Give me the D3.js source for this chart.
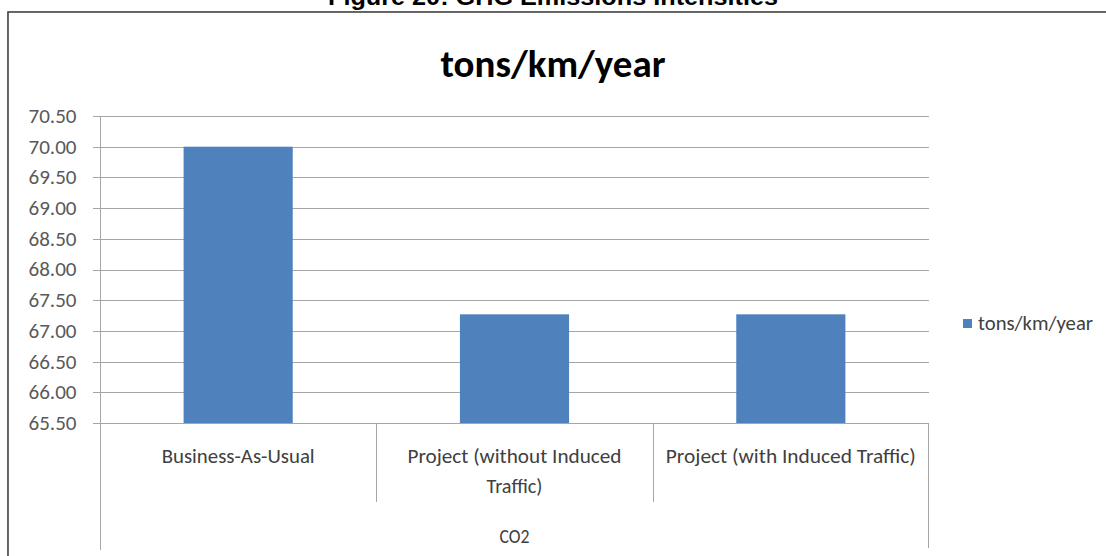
<!DOCTYPE html>
<html>
<head>
<meta charset="utf-8">
<script src="https://cdn.jsdelivr.net/npm/d3@7"></script>
<style>
  html, body { margin: 0; padding: 0; background: #fff; }
  svg { display: block; }
  .lbl { font-family: Carlito, "Liberation Sans Narrow", "Open Sans", sans-serif; }
</style>
</head>
<body>
<svg id="chart" width="1106" height="556"></svg>
<script>
// Emission intensity of CO2 per kilometre per year, by scenario
const categories = ["Business-As-Usual", "Project (without Induced Traffic)", "Project (with Induced Traffic)"];
const categoryLines = [["Business-As-Usual"], ["Project (without Induced", "Traffic)"], ["Project (with Induced Traffic)"]];
const groupLabel = "CO2";
const seriesName = "tons/km/year";
const values = [70.0, 67.27, 67.27];
const yTicks = [65.5, 66.0, 66.5, 67.0, 67.5, 68.0, 68.5, 69.0, 69.5, 70.0, 70.5];
const caption = "Figure 20: GHG Emissions Intensities";
const chartTitle = "tons/km/year";

const svg = d3.select("#chart");
const W = 1106, H = 556;
const plot = { left: 100, right: 929, top: 116, bottom: 423 };
const barColor = "#4f81bd";
const fontStack = 'Carlito, "Liberation Sans Narrow", "Open Sans", sans-serif';

// Page caption above the chart box (partly cut off at the top)
svg.append("text")
  .attr("x", 553).attr("y", 5)
  .attr("text-anchor", "middle")
  .attr("font-family", "Liberation Sans, Arial, sans-serif")
  .attr("font-weight", "bold")
  .attr("font-size", 24)
  .attr("textLength", 450)
  .attr("lengthAdjust", "spacingAndGlyphs")
  .attr("fill", "#000")
  .text(caption);

// Chart box with a soft shadowed border
svg.append("rect")
  .attr("x", 9).attr("y", 13).attr("width", 1110).attr("height", 560)
  .attr("fill", "none").attr("stroke", "#bdbdbd").attr("stroke-width", 3);
svg.append("rect")
  .attr("x", 8).attr("y", 12).attr("width", 1110).attr("height", 560)
  .attr("fill", "#fff").attr("stroke", "#3a3a3a").attr("stroke-width", 1.5);

// Scales
const y = d3.scaleLinear().domain([65.5, 70.5]).range([plot.bottom, plot.top]);
const x = d3.scaleBand().domain(categories).range([plot.left, plot.right]).paddingInner(0).paddingOuter(0);
const barFrac = 0.395;

// Horizontal gridlines with short tick stubs on the left
const grid = svg.append("g");
grid.selectAll("line")
  .data(yTicks)
  .join("line")
  .attr("x1", plot.left - 7).attr("x2", plot.right)
  .attr("y1", d => Math.round(y(d)) + 0.5).attr("y2", d => Math.round(y(d)) + 0.5)
  .attr("stroke", "#a6a6a6").attr("stroke-width", 1);

// Y axis built with d3.axisLeft, restyled
const yAxis = svg.append("g")
  .attr("transform", `translate(${plot.left - 0.5},0)`)
  .call(d3.axisLeft(y).tickValues(yTicks).tickFormat(d3.format(".2f")).tickSize(0).tickPadding(23));
yAxis.select(".domain").remove();
yAxis.selectAll("text")
  .attr("font-family", fontStack)
  .attr("font-size", 20)
  .attr("fill", "#595959")
  .attr("textLength", 48)
  .attr("lengthAdjust", "spacingAndGlyphs");

// Vertical axis line (extends down through the category area)
svg.append("line")
  .attr("x1", plot.left + 0.5).attr("x2", plot.left + 0.5)
  .attr("y1", plot.top).attr("y2", 550)
  .attr("stroke", "#a6a6a6");

// Bars
svg.append("g").selectAll("rect")
  .data(categories.map((c, i) => ({ c, v: values[i] })))
  .join("rect")
  .attr("x", d => x(d.c) + x.bandwidth() * (1 - barFrac) / 2)
  .attr("width", x.bandwidth() * barFrac)
  .attr("y", d => y(d.v))
  .attr("height", d => y(65.5) - y(d.v))
  .attr("fill", barColor);

// Baseline
svg.append("line")
  .attr("x1", plot.left - 7).attr("x2", plot.right)
  .attr("y1", plot.bottom + 0.5).attr("y2", plot.bottom + 0.5)
  .attr("stroke", "#a6a6a6");

// Category dividers (inner) and outer right edge
categories.slice(1).forEach(c => {
  svg.append("line")
    .attr("x1", Math.round(x(c)) + 0.5).attr("x2", Math.round(x(c)) + 0.5)
    .attr("y1", plot.bottom).attr("y2", 502)
    .attr("stroke", "#a6a6a6");
});
svg.append("line")
  .attr("x1", plot.right - 0.5).attr("x2", plot.right - 0.5)
  .attr("y1", plot.bottom).attr("y2", 548)
  .attr("stroke", "#a6a6a6");

// Category labels
const lineWidths = { "Business-As-Usual": 153, "Project (without Induced": 214, "Traffic)": 56, "Project (with Induced Traffic)": 250 };
categories.forEach((c, i) => {
  categoryLines[i].forEach((t, j) => {
    svg.append("text")
      .attr("class", "lbl")
      .attr("x", x(c) + x.bandwidth() / 2)
      .attr("y", 463 + j * 30)
      .attr("text-anchor", "middle")
      .attr("font-size", 20)
      .attr("fill", "#404040")
      .attr("textLength", lineWidths[t])
      .attr("lengthAdjust", "spacingAndGlyphs")
      .text(t);
  });
});

// Group label
svg.append("text")
  .attr("class", "lbl")
  .attr("x", (plot.left + plot.right) / 2)
  .attr("y", 543)
  .attr("text-anchor", "middle")
  .attr("font-size", 20)
  .attr("fill", "#404040")
  .attr("textLength", 30)
  .attr("lengthAdjust", "spacingAndGlyphs")
  .text(groupLabel);

// Chart title
svg.append("text")
  .attr("class", "lbl")
  .attr("x", 553).attr("y", 77)
  .attr("text-anchor", "middle")
  .attr("font-size", 39)
  .attr("font-weight", "bold")
  .attr("fill", "#000")
  .attr("textLength", 225)
  .attr("lengthAdjust", "spacingAndGlyphs")
  .text(chartTitle);

// Legend
const legend = svg.append("g").attr("transform", "translate(963,319)");
legend.append("rect").attr("width", 9).attr("height", 9).attr("fill", barColor);
legend.append("text")
  .attr("class", "lbl")
  .attr("x", 15).attr("y", 11)
  .attr("font-size", 20)
  .attr("fill", "#404040")
  .attr("textLength", 115)
  .attr("lengthAdjust", "spacingAndGlyphs")
  .text(seriesName);
</script>
</body>
</html>
